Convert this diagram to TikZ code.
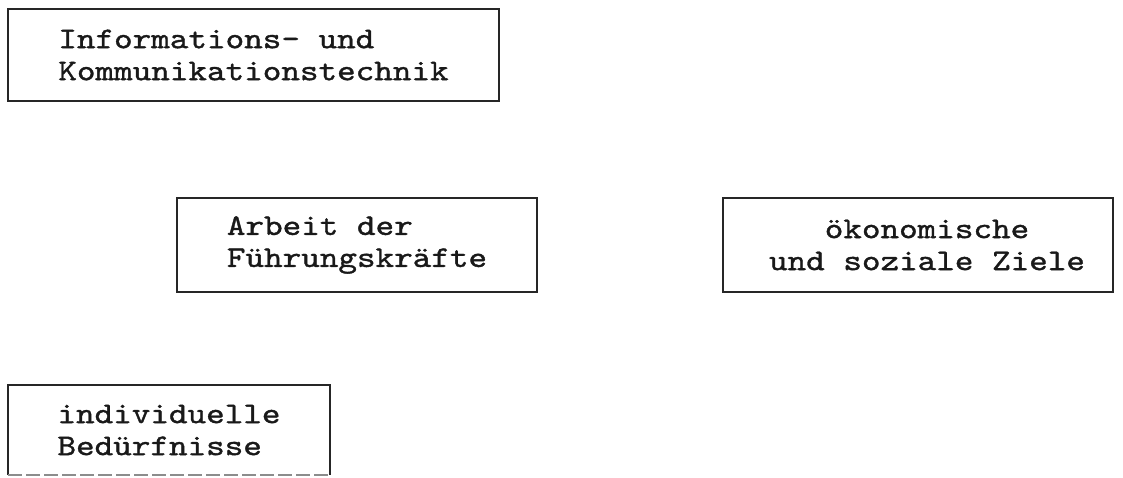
\documentclass[tikz,border=0pt]{standalone}
\usepackage{fontspec}
\newfontfamily\courfont{lmmono10-regular.otf}[FakeStretch=1.18,FakeBold=1.2]
\begin{document}
\begin{tikzpicture}[x=1pt,y=-1pt,
  box/.style={draw=black!85,line width=1.8pt,inner sep=0pt,outer sep=0pt,
    font=\courfont\fontsize{30}{32}\selectfont,text=black!90}]
\useasboundingbox (0,0) rectangle (1123,478);
\node[box,minimum width=491pt,minimum height=92pt,align=left] (ikt) at (253.5,55) {Informations- und\\Kommunikationstechnik};
\node[box,minimum width=360pt,minimum height=94pt,align=left] (arb) at (357,245) {Arbeit der\\Führungskräfte};
\node[box,minimum width=390pt,minimum height=94pt,align=center] (ziel) at (918,245) {\hspace*{18pt}ökonomische\\\hspace*{18pt}und soziale Ziele};
\node[box,draw=none,minimum width=322pt,minimum height=90pt,align=left] (bed) at (169,430) {individuelle\\Bedürfnisse};
\draw[black!85,line width=1.8pt] (bed.south west) -- (bed.north west) -- (bed.north east) -- (bed.south east);
\draw[black!45,line width=1.2pt,dash pattern=on 14pt off 4pt] (bed.south west) -- (bed.south east);
\end{tikzpicture}
\end{document}
